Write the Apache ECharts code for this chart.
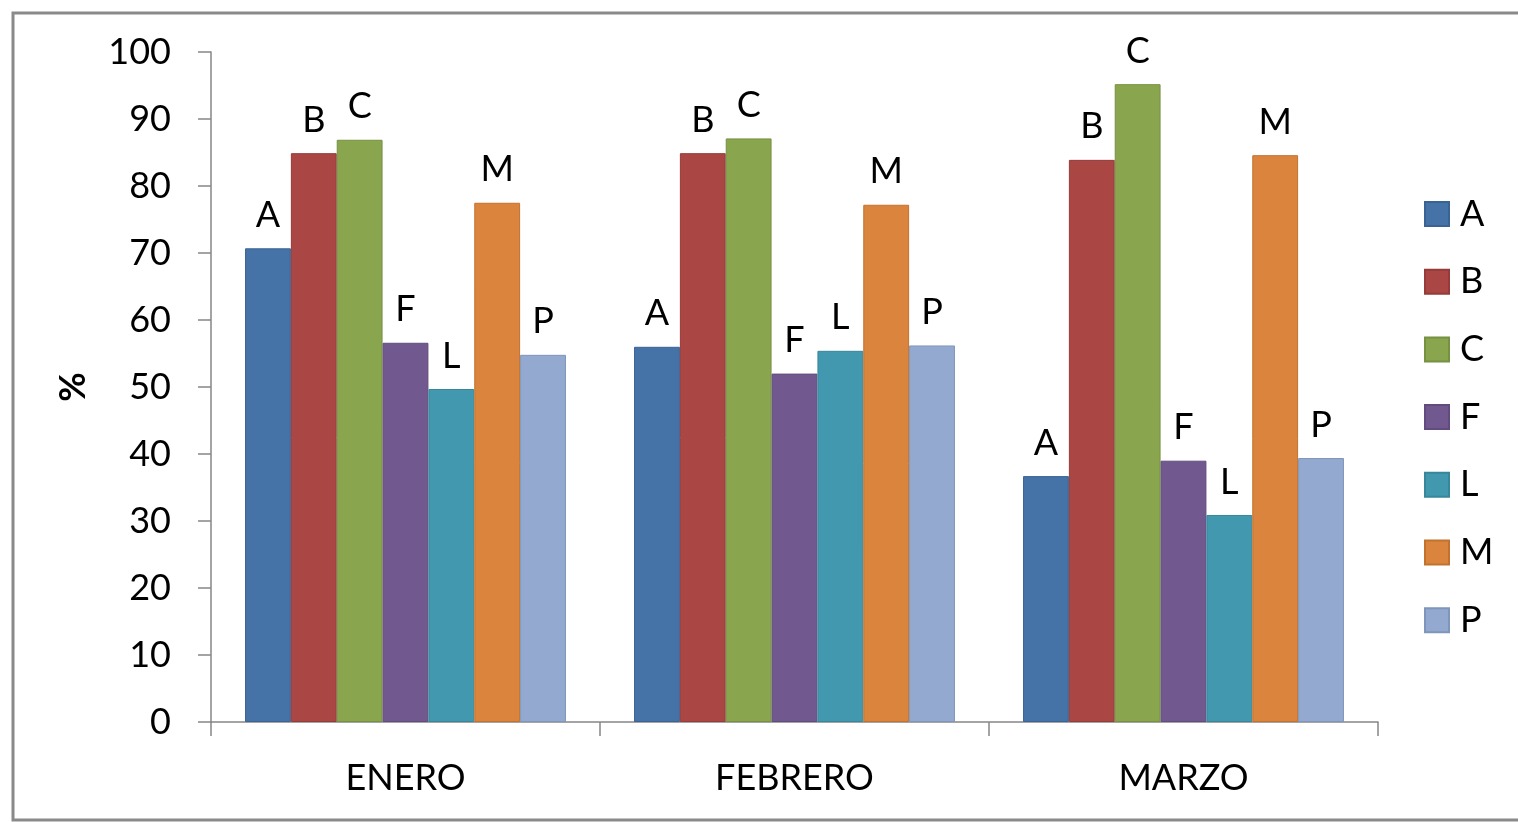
<!DOCTYPE html>
<html>
<head>
<meta charset="utf-8">
<style>
  html, body { margin: 0; padding: 0; background: #fff; }
  #chart { width: 1518px; height: 822px; }
</style>
<script src="https://cdn.jsdelivr.net/npm/echarts@6/dist/echarts.min.js"></script>
</head>
<body>
<div id="chart"></div>
<script>
// Months shown on the category axis
const months = ['ENERO', 'FEBRERO', 'MARZO'];

// Percentage per group and month
const seriesNames = ['A', 'B', 'C', 'F', 'L', 'M', 'P'];
const valuesA = [70.7, 56.0, 36.7];
const valuesB = [84.9, 84.9, 83.9];
const valuesC = [86.9, 87.1, 95.2];
const valuesF = [56.6, 52.0, 39.0];
const valuesL = [49.7, 55.4, 30.9];
const valuesM = [77.5, 77.2, 84.6];
const valuesP = [54.8, 56.2, 39.4];

// Y axis ticks
const yMin = 0;
const yMax = 100;
const yStep = 10;

const allValues = [valuesA, valuesB, valuesC, valuesF, valuesL, valuesM, valuesP];
const fills   = ['#4572A7', '#AA4643', '#89A54E', '#71588F', '#4198AF', '#DB843D', '#93A9CF'];
const borders = ['#3A6394', '#953B39', '#779142', '#624C7D', '#37869A', '#C2722F', '#7F95BA'];

const FONT = 'Lato, "Open Sans", sans-serif';
const FS = 36;
const axisGray = '#868686';

const series = seriesNames.map((name, i) => ({
  name: name,
  type: 'bar',
  data: allValues[i],
  barGap: '0%',
  barCategoryGap: '17.5%',
  itemStyle: { color: fills[i], borderColor: borders[i], borderWidth: 1 },
  label: {
    show: true,
    position: 'top',
    distance: 15,
    formatter: () => name,
    color: '#000',
    fontFamily: FONT,
    fontSize: FS
  }
}));

const chart = echarts.init(document.getElementById('chart'), null, { renderer: 'canvas' });
chart.setOption({
  animation: false,
  backgroundColor: '#fff',
  textStyle: { fontFamily: FONT },
  grid: { left: 211, right: 140, top: 52, bottom: 100, containLabel: false },
  graphic: [{
    type: 'rect',
    shape: { x: 13, y: 13, width: 1520, height: 807 },
    style: { fill: 'none', stroke: '#8a8a8a', lineWidth: 3 },
    silent: true,
    z: -1
  }],
  legend: {
    orient: 'vertical',
    left: 1424,
    top: 196,
    padding: 0,
    itemWidth: 24,
    itemHeight: 24,
    itemGap: 31.7,
    icon: 'rect',
    textStyle: { fontFamily: FONT, fontSize: FS, color: '#000', lineHeight: 36, padding: [0, 0, 0, 6] },
    data: seriesNames
  },
  xAxis: {
    type: 'category',
    data: months,
    axisLine: { lineStyle: { color: axisGray, width: 1.5 } },
    axisTick: { show: true, length: 14, lineStyle: { color: axisGray, width: 1.5 } },
    axisLabel: { color: '#000', fontFamily: FONT, fontSize: FS, margin: 38 },
    splitLine: { show: false }
  },
  yAxis: {
    type: 'value',
    min: yMin,
    max: yMax,
    interval: yStep,
    name: '%',
    nameLocation: 'middle',
    nameRotate: 90,
    nameGap: 120,
    nameTextStyle: { color: '#000', fontFamily: FONT, fontSize: FS, fontWeight: 'bold' },
    axisLine: { show: true, lineStyle: { color: axisGray, width: 1.5 } },
    axisTick: { show: true, length: 13, lineStyle: { color: axisGray, width: 1.5 } },
    axisLabel: { color: '#000', fontFamily: FONT, fontSize: FS, margin: 40 },
    splitLine: { show: false }
  },
  series: series
});
</script>
</body>
</html>
